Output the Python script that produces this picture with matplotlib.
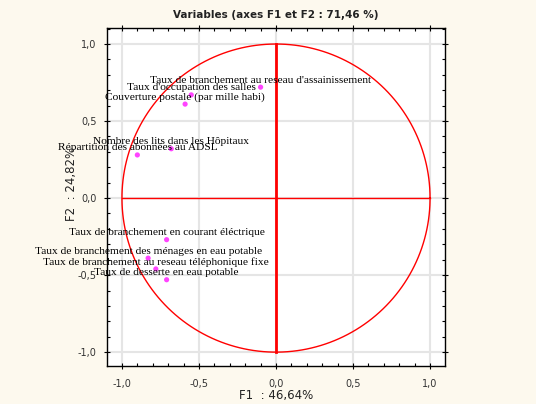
import numpy as np
import matplotlib
matplotlib.use("Agg")
import matplotlib.pyplot as plt
from matplotlib.ticker import MultipleLocator, FuncFormatter

labels = [
    "Taux de branchement au reseau d'assainissement",
    "Taux d'occupation des salles",
    "Couverture postale (par mille habi)",
    "Nombre des lits dans les Hôpitaux",
    "Répartition des abonnées au ADSL",
    "Taux de branchement en courant éléctrique",
    "Taux de branchement des ménages en eau potable",
    "Taux de branchement au reseau téléphonique fixe",
    "Taux de desserte en eau potable",
]
f1 = [-0.10, -0.55, -0.59, -0.68, -0.90, -0.71, -0.83, -0.78, -0.71]
f2 = [0.72, 0.67, 0.61, 0.32, 0.28, -0.27, -0.39, -0.46, -0.53]

title = "Variables (axes F1 et F2 : 71,46 %)"
xlabel = "F1  : 46,64%"
ylabel = "F2  : 24,82%"

bg = "#FDF9EE"
fig = plt.figure(figsize=(5.36, 4.04), dpi=100, facecolor=bg)
ax = fig.add_axes([107/536, 1-366/404, (445-107)/536, (366-28)/404])
ax.set_facecolor("white")
ax.set_xlim(-1.097, 1.097)
ax.set_ylim(-1.09, 1.104)

ax.xaxis.set_major_locator(MultipleLocator(0.5))
ax.yaxis.set_major_locator(MultipleLocator(0.5))
ax.xaxis.set_minor_locator(MultipleLocator(0.1))
ax.yaxis.set_minor_locator(MultipleLocator(0.1))
fmt = FuncFormatter(lambda v, p: ("%.1f" % v).replace(".", ",").replace("-0,0", "0,0"))
ax.xaxis.set_major_formatter(fmt)
ax.yaxis.set_major_formatter(fmt)
ax.grid(True, which="major", color="#E5E5E5", lw=1.5, zorder=0)
ax.tick_params(which="both", top=True, right=True, labelsize=7, labelcolor="#333333", width=0.8)
ax.tick_params(which="major", direction="inout", length=5)
ax.tick_params(which="minor", direction="in", length=2)
ax.tick_params(axis="x", pad=7)
ax.tick_params(axis="y", pad=5)
for s in ax.spines.values():
    s.set_color("black")
    s.set_linewidth(1.0)

t = np.linspace(0, 2*np.pi, 400)
ax.plot(np.cos(t), np.sin(t), color="#FF0000", lw=1.0, zorder=2)
ax.plot([0, 0], [-1, 1], color="#FF0000", lw=2.0, zorder=2)
ax.plot([-1, 1], [0, 0], color="#FF0000", lw=1.0, zorder=2)

ax.scatter(f1, f2, s=14, color="#FF44FF", zorder=4, edgecolors="none")
for lab, x, y in zip(labels, f1, f2):
    ax.annotate(lab, (x, y), xytext=(0, 7), textcoords="offset pixels",
                ha="center", va="center", fontsize=8.2, family="Liberation Serif",
                color="black", zorder=5)

fig.text(276/536, 1-15/404, title, ha="center", va="center", fontsize=7.5, fontweight="bold", color="#222222")
fig.text(276/536, 1-395/404, xlabel, ha="center", va="center", fontsize=8.5, color="#222222")
fig.text(72/536, 1-184/404, ylabel, ha="center", va="center", fontsize=8.5, rotation=90, color="#222222")

fig.savefig("out.png", dpi=100, facecolor=bg)
